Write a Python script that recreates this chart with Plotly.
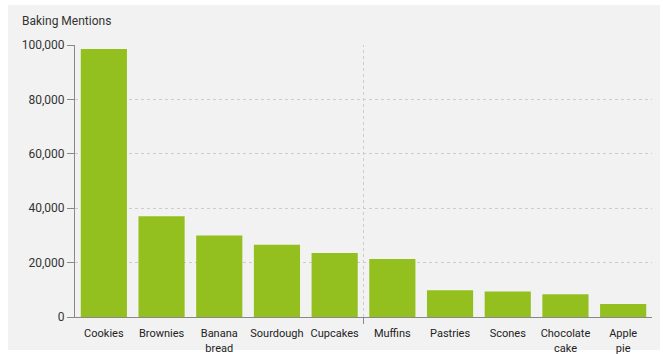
import plotly.graph_objects as go

categories = ["Cookies", "Brownies", "Banana<br>bread", "Sourdough", "Cupcakes",
              "Muffins", "Pastries", "Scones", "Chocolate<br>cake", "Apple<br>pie"]
mentions = [98500, 37000, 30000, 26600, 23500, 21300, 9800, 9400, 8400, 4800]
y_ticks = [0, 20000, 40000, 60000, 80000, 100000]

W, H = 663, 354
L, R, T, B = 75, 11, 45, 37
pw, ph = W - L - R, H - T - B

fig = go.Figure(go.Bar(x=categories, y=mentions, marker=dict(color="#93C01F", line=dict(width=0)),
                       hoverinfo="x+y"))

shapes = [
    # panel background
    dict(type="rect", xref="paper", yref="paper", layer="below",
         x0=(8 - L) / pw, x1=(660 - L) / pw, y0=(H - B - 350) / ph, y1=(H - B - 5) / ph,
         fillcolor="#F2F2F2", line=dict(width=0)),
    # middle vertical dotted grid line
    dict(type="line", xref="x", yref="paper", x0=4.5, x1=4.5, y0=0, y1=1, layer="below",
         line=dict(color="#CCCCCC", width=1, dash="dot")),
    # middle tick below axis
    dict(type="line", xref="x", yref="paper", x0=4.5, x1=4.5, y0=-7 / ph, y1=0,
         line=dict(color="#888888", width=1)),
]

fig.update_layout(
    width=W, height=H,
    margin=dict(l=L, r=R, t=T, b=B, autoexpand=False),
    paper_bgcolor="white",
    plot_bgcolor="rgba(0,0,0,0)",
    font=dict(family="Roboto, Arial, sans-serif", size=11, color="#333333"),
    bargap=0.2,
    showlegend=False,
    shapes=shapes,
    annotations=[dict(text="Baking Mentions", xref="paper", yref="paper",
                      x=(20 - L) / pw, y=(H - B - 21) / ph, xanchor="left", yanchor="middle",
                      showarrow=False, font=dict(size=12, color="#333333"))],
    xaxis=dict(type="category", showgrid=False, showline=True, linecolor="#888888", linewidth=1,
               ticks="outside", ticklen=6, tickcolor="rgba(0,0,0,0)", automargin=False,
               tickfont=dict(size=11, color="#222222"), range=[-0.5, 9.5], fixedrange=True),
    yaxis=dict(range=[0, 100000], tickvals=y_ticks, tickformat=",", showgrid=True,
               gridcolor="#CCCCCC", griddash="dot", gridwidth=1, zeroline=False,
               showline=True, linecolor="#888888", linewidth=1, automargin=False,
               ticks="outside", ticklen=7, tickcolor="#888888",
               tickfont=dict(size=12, color="#333333"), fixedrange=True),
)

fig.write_html("out.html")
